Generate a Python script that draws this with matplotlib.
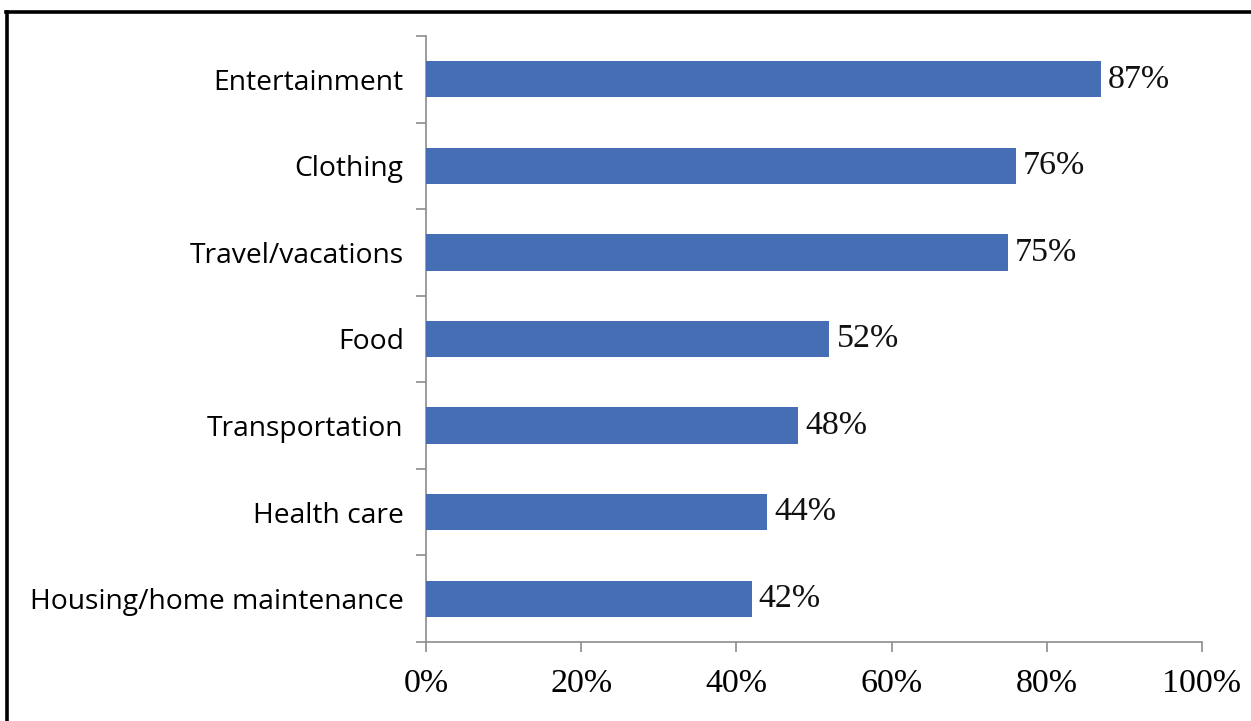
import matplotlib
matplotlib.use('Agg')
import matplotlib.pyplot as plt
from matplotlib.lines import Line2D
import numpy as np

categories = ["Housing/home maintenance", "Health care", "Transportation", "Food",
              "Travel/vacations", "Clothing", "Entertainment"]
values = [42, 44, 48, 52, 75, 76, 87]
x_ticks = [0, 20, 40, 60, 80, 100]
x_labels = ["0%", "20%", "40%", "60%", "80%", "100%"]

BAR_COLOR = '#466EB4'
SPINE_COLOR = '#8C8C8C'

fig = plt.figure(figsize=(12.51, 7.21), dpi=100)
ax = fig.add_axes([0.3405, 0.1096, 0.6203, 0.8405])

y = np.arange(len(categories))
ax.barh(y, values, height=0.42, color=BAR_COLOR, zorder=3)
for yi, v in zip(y, values):
    ax.text(v + 0.9, yi, f"{v}%", va='center', ha='left', fontsize=24.5,
            family='Liberation Serif', color='#111111')

ax.set_xlim(0, 100)
ax.set_ylim(-0.5, len(categories) - 0.5)
ax.set_xticks(x_ticks)
ax.set_xticklabels(x_labels, fontsize=24.5, family='Liberation Serif')
ax.set_yticks(y)
ax.set_yticklabels(categories, fontsize=20.3, family='Open Sans')
ax.set_yticks(np.arange(-0.5, len(categories)), minor=True)

for side in ['top', 'right']:
    ax.spines[side].set_visible(False)
for side in ['left', 'bottom']:
    ax.spines[side].set_color(SPINE_COLOR)
    ax.spines[side].set_linewidth(1.2)

ax.tick_params(axis='y', which='major', length=0, pad=16)
ax.tick_params(axis='y', which='minor', length=7.2, width=1.2, color=SPINE_COLOR, direction='out')
ax.tick_params(axis='x', which='major', length=7.2, width=1.2, color=SPINE_COLOR, direction='out', pad=12)

# outer frame (top and left edges)
fig.add_artist(Line2D([0.0045, 1.0], [0.984, 0.984], color='black', lw=2.6, transform=fig.transFigure))
fig.add_artist(Line2D([0.0053, 0.0053], [0.0, 0.984], color='black', lw=2.6, transform=fig.transFigure))

fig.savefig('out.png', dpi=100)
